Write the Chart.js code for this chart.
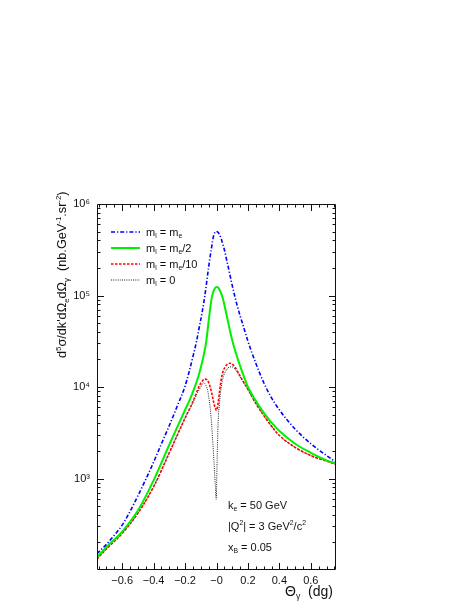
<!DOCTYPE html>
<html>
<head>
<meta charset="utf-8">
<script src="https://cdn.jsdelivr.net/npm/chart.js@4.4.1/dist/chart.umd.min.js"></script>
<style>
html,body{margin:0;padding:0;background:#fff;}
canvas{display:block;}
</style>
</head>
<body>
<canvas id="c" width="468" height="605"></canvas>
<script>
// ---- data ----
const xTickValues = [-0.6, -0.4, -0.2, 0, 0.2, 0.4, 0.6];
const xTickLabels = ['\u22120.6', '\u22120.4', '\u22120.2', '\u22120', '0.2', '0.4', '0.6'];
const yTickValues = [1e3, 1e4, 1e5, 1e6];
const yTickLabels = ['10\u00B3', '10\u2074', '10\u2075', '10\u2076'];

const seriesNames = ['m_e', 'm_e/2', 'm_e/10', '0'];

// m_l = m_e
const xBlue = [-0.76, -0.7, -0.65, -0.6, -0.55, -0.5, -0.45, -0.4, -0.35, -0.3, -0.25, -0.2, -0.175, -0.15, -0.127, -0.11, -0.09, -0.074, -0.06, -0.05, -0.04, -0.03, -0.02, -0.01, 0,
               0.01, 0.02, 0.03, 0.04, 0.05, 0.065, 0.08, 0.1, 0.115, 0.13, 0.15, 0.175, 0.2, 0.25, 0.3, 0.35, 0.4, 0.5, 0.6, 0.7, 0.76];
const yBlue = [151, 191, 240, 309, 437, 646, 977, 1510, 2400, 3800, 6170, 10200, 14500, 21400, 31600, 44700, 67600, 100000, 151000, 204000, 269000, 347000, 437000, 490000, 501000,
               490000, 457000, 417000, 363000, 316000, 243000, 186000, 129000, 100000, 79400, 60300, 43700, 31600, 18200, 11200, 7590, 5620, 3470, 2400, 1780, 1510];

// m_l = m_e/2
const xGreen = [-0.76, -0.7, -0.6, -0.5, -0.4, -0.3, -0.25, -0.2, -0.17, -0.14, -0.12, -0.1, -0.08, -0.065, -0.05, -0.04, -0.03, -0.02, -0.01, 0,
                0.01, 0.02, 0.03, 0.04, 0.05, 0.06, 0.07, 0.085, 0.1, 0.125, 0.15, 0.175, 0.2, 0.25, 0.3, 0.35, 0.4, 0.5, 0.6, 0.7, 0.76];
const yGreen = [138, 178, 263, 447, 955, 2340, 3630, 5620, 7240, 9770, 12300, 16200, 22900, 31600, 52500, 72400, 95500, 110000, 120000, 124000,
                122000, 115000, 105000, 93300, 79400, 66100, 55000, 41700, 32400, 22900, 17000, 12900, 10000, 7080, 5250, 4070, 3310, 2400, 1910, 1580, 1460];

// m_l = m_e/10
const xRed = [-0.76, -0.7, -0.6, -0.5, -0.4, -0.3, -0.2, -0.15, -0.12, -0.1, -0.085, -0.074, -0.06, -0.05, -0.04, -0.03, -0.02, -0.01, 0,
              0.01, 0.02, 0.03, 0.04, 0.055, 0.07, 0.083, 0.1, 0.12, 0.15, 0.175, 0.2, 0.25, 0.3, 0.35, 0.4, 0.5, 0.6, 0.7, 0.76];
const yRed = [132, 170, 251, 417, 813, 1910, 4570, 6920, 9330, 11000, 11900, 12200, 12000, 11200, 10000, 8510, 7080, 6030, 5560,
              6610, 9120, 12000, 14500, 16600, 17800, 18200, 17800, 16200, 13200, 11100, 9440, 6610, 4900, 3720, 2950, 2190, 1780, 1550, 1430];

// m_l = 0
const xBlack = [-0.76, -0.7, -0.6, -0.5, -0.4, -0.3, -0.2, -0.15, -0.12, -0.1, -0.085, -0.07, -0.055, -0.045, -0.035, -0.025, -0.015, -0.007, -0.002,
                0.004, 0.01, 0.019, 0.03, 0.045, 0.065, 0.085, 0.1, 0.12, 0.15, 0.175, 0.2, 0.25, 0.3, 0.35, 0.4, 0.5, 0.6, 0.7, 0.76];
const yBlack = [132, 170, 251, 417, 813, 1910, 4570, 6760, 8710, 10000, 11100, 10700, 8910, 6920, 4790, 2750, 1410, 813, 589,
                1580, 3980, 6610, 10000, 13200, 15500, 16600, 16600, 15500, 12900, 10900, 9330, 6610, 4900, 3720, 2950, 2190, 1780, 1550, 1430];

const xMinorStep = 0.05;
const yMinorMultipliers = [2, 3, 4, 5, 6, 7, 8, 9];
const yDecades = [100, 1000, 10000, 100000];

// ---- helpers ----
const FONT = '"Liberation Sans", Arial, Helvetica, sans-serif';
function drawRich(ctx, x, y, parts, size) {
  // parts: [text, mode] mode 0 normal, 1 sup, 2 sub
  let cx = x;
  for (const [t, m] of parts) {
    let fs = size, dy = 0;
    if (m === 1) { fs = size * 0.62; dy = -size * 0.42; }
    if (m === 2) { fs = size * 0.62; dy = size * 0.22; }
    ctx.font = fs + 'px ' + FONT;
    ctx.fillText(t, cx, y + dy);
    cx += ctx.measureText(t).width;
  }
  return cx - x;
}
const pts = (xs, ys) => xs.map((x, i) => ({ x: x, y: ys[i] }));

const BLUE = '#0000ff', GREEN = '#00f000', RED = '#ff0000', BLACK = '#222222';
const legendItems = [
  { color: BLUE, dash: [4, 2, 1.2, 2], width: 1.6, parts: [['m',0],['l',2],[' = m',0],['e',2]] },
  { color: GREEN, dash: [], width: 2, parts: [['m',0],['l',2],[' = m',0],['e',2],['/2',0]] },
  { color: RED, dash: [2.5, 1.5], width: 1.6, parts: [['m',0],['l',2],[' = m',0],['e',2],['/10',0]] },
  { color: BLACK, dash: [1, 1.2], width: 1, parts: [['m',0],['l',2],[' = 0',0]] }
];

const framePlugin = {
  id: 'frame',
  afterDraw(chart) {
    const ctx = chart.ctx, a = chart.chartArea;
    const xs = chart.scales.x, ys = chart.scales.y;
    ctx.save();
    ctx.strokeStyle = '#111';
    ctx.lineWidth = 1;
    ctx.beginPath();
    ctx.rect(a.left + 0.5, a.top + 0.5, a.right - a.left - 1, a.bottom - a.top - 1);
    ctx.stroke();
    ctx.beginPath();
    for (let k = -15; k <= 15; k++) {
      const v = k * xMinorStep;
      const px = Math.round(xs.getPixelForValue(v)) + 0.5;
      if (px < a.left || px > a.right) continue;
      const major = (k % 4 === 0);
      const len = major ? 7 : 3.5;
      ctx.moveTo(px, a.bottom); ctx.lineTo(px, a.bottom - len);
      ctx.moveTo(px, a.top); ctx.lineTo(px, a.top + len);
    }
    for (const d of yDecades) {
      for (const m of [1].concat(yMinorMultipliers)) {
        const v = d * m;
        const py = Math.round(ys.getPixelForValue(v)) + 0.5;
        if (py < a.top || py > a.bottom) continue;
        const len = m === 1 ? 7 : 3.5;
        ctx.moveTo(a.left, py); ctx.lineTo(a.left + len, py);
        ctx.moveTo(a.right, py); ctx.lineTo(a.right - len, py);
      }
    }
    ctx.stroke();

    ctx.fillStyle = '#111';
    ctx.textBaseline = 'alphabetic';
    ctx.textAlign = 'left';
    const legY = [232, 248, 264, 280];
    legendItems.forEach((it, i) => {
      ctx.save();
      ctx.strokeStyle = it.color;
      ctx.lineWidth = it.width;
      ctx.setLineDash(it.dash);
      ctx.beginPath();
      ctx.moveTo(111, legY[i]); ctx.lineTo(140, legY[i]);
      ctx.stroke();
      ctx.restore();
      drawRich(ctx, 146, legY[i] + 4, it.parts, 11);
    });

    drawRich(ctx, 228, 509, [['k',0],['e',2],[' = 50 GeV',0]], 11);
    drawRich(ctx, 228, 530, [['|Q',0],['2',1],['| = 3 GeV',0],['2',1],['/c',0],['2',1]], 11);
    drawRich(ctx, 228, 551, [['x',0],['B',2],[' = 0.05',0]], 11);

    drawRich(ctx, 285, 596, [['\u0398',0],['\u03B3',2],['  (dg)',0]], 14);

    ctx.save();
    ctx.translate(66, 358);
    ctx.rotate(-Math.PI / 2);
    drawRich(ctx, 0, 0, [['d',0],['5',1],['\u03C3/dk\'d\u03A9',0],['e',2],['d\u03A9',0],['\u03B3',2],['  (nb.GeV',0],['-1',1],['.sr',0],['-2',1],[')',0]], 12.7);
    ctx.restore();
    ctx.restore();
  }
};

new Chart(document.getElementById('c'), {
  type: 'line',
  data: {
    datasets: [
      { label: seriesNames[0], data: pts(xBlue, yBlue), borderColor: BLUE, borderWidth: 1.6, borderDash: [4, 2, 1.2, 2], cubicInterpolationMode: 'monotone' },
      { label: seriesNames[1], data: pts(xGreen, yGreen), borderColor: GREEN, borderWidth: 2, cubicInterpolationMode: 'monotone' },
      { label: seriesNames[2], data: pts(xRed, yRed), borderColor: RED, borderWidth: 1.6, borderDash: [2.5, 1.5], cubicInterpolationMode: 'monotone' },
      { label: seriesNames[3], data: pts(xBlack, yBlack), borderColor: BLACK, borderWidth: 1, borderDash: [1, 1.2], cubicInterpolationMode: 'monotone' }
    ]
  },
  options: {
    responsive: false,
    animation: false,
    layout: { padding: { left: 0, top: 204, right: 132, bottom: 0 } },
    elements: { point: { radius: 0 } },
    plugins: { legend: { display: false }, tooltip: { enabled: false } },
    scales: {
      x: {
        type: 'linear', min: -0.76, max: 0.76,
        grid: { display: false, drawTicks: false },
        border: { display: false },
        afterBuildTicks: s => { s.ticks = xTickValues.map(v => ({ value: v })); },
        afterFit: s => { s.height = 35; },
        ticks: {
          padding: 4, color: '#111', maxRotation: 0, autoSkip: false,
          font: { family: FONT, size: 11 },
          callback: (v) => { const i = xTickValues.findIndex(t => Math.abs(t - v) < 1e-9); return i >= 0 ? xTickLabels[i] : ''; }
        }
      },
      y: {
        type: 'logarithmic', min: 100, max: 1e6,
        grid: { display: false, drawTicks: false },
        border: { display: false },
        afterBuildTicks: s => { s.ticks = yTickValues.map(v => ({ value: v })); },
        afterFit: s => { s.width = 97; },
        ticks: {
          padding: 7, color: '#111', autoSkip: false,
          font: { family: FONT, size: 11 },
          callback: (v) => { const i = yTickValues.findIndex(t => Math.abs(t - v) / t < 1e-6); return i >= 0 ? yTickLabels[i] : ''; }
        }
      }
    }
  },
  plugins: [framePlugin]
});
</script>
</body>
</html>
